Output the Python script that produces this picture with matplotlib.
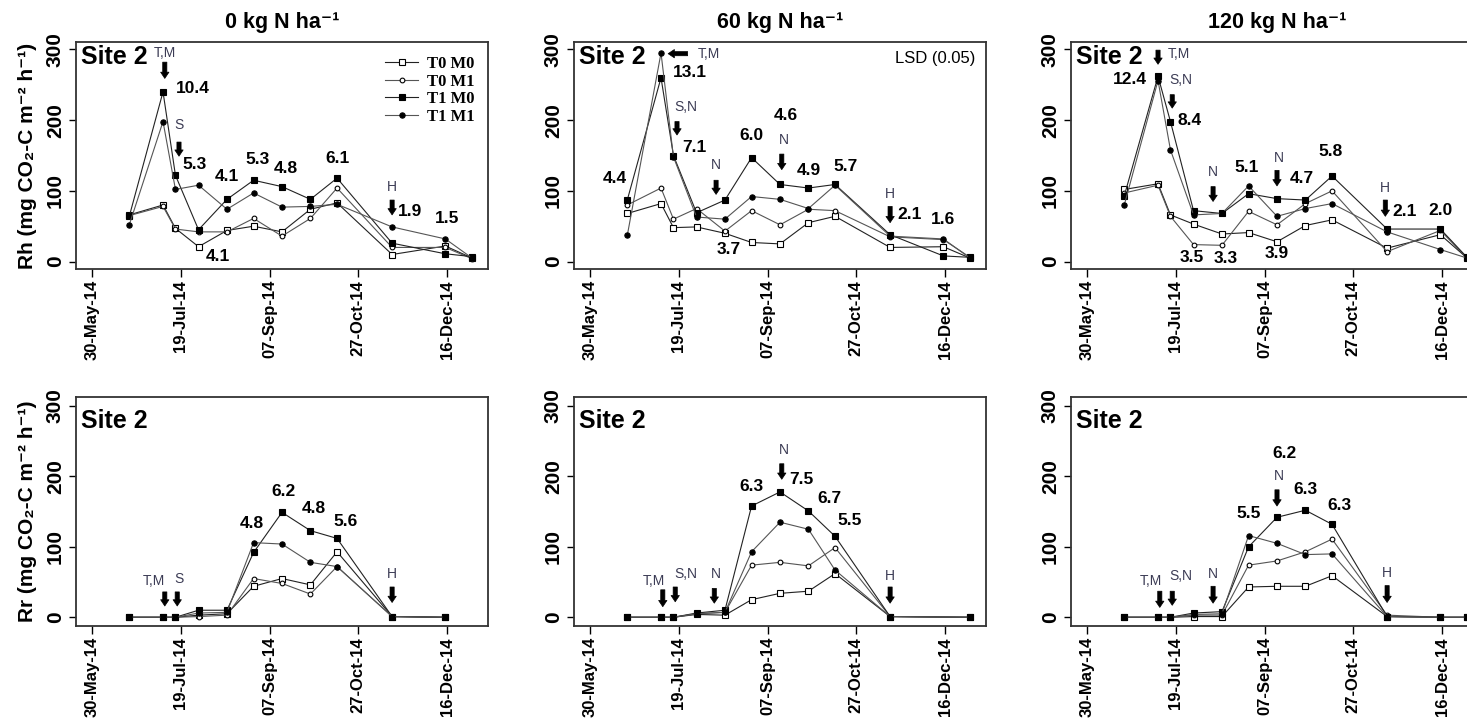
import numpy as np
import pandas as pd
import matplotlib
matplotlib.use('Agg')
import matplotlib.pyplot as plt
import matplotlib.dates as mdates

plt.rcParams['font.family'] = ['Liberation Sans', 'DejaVu Sans']

nan = np.nan

# sampling dates (same for every panel)
dates = pd.to_datetime(['2014-06-20', '2014-07-09', '2014-07-16', '2014-07-29',
                        '2014-08-14', '2014-08-29', '2014-09-14', '2014-09-30',
                        '2014-10-15', '2014-11-15', '2014-12-15', '2014-12-30'])

series_names = ['T0 M0', 'T0 M1', 'T1 M0', 'T1 M1']
titles = ['0 kg N ha\u207b\u00b9', '60 kg N ha\u207b\u00b9', '120 kg N ha\u207b\u00b9']

# Rh (heterotrophic respiration), one list per treatment: T0M0, T0M1, T1M0, T1M1
rh_n0 = [[66, 80, 47, 21, 44, 50, 42, 74, 83, 10, 22, 5],
         [65, 78, 46, 42, 42, 61, 36, 61, 104, 20, 20, 4],
         [64, 240, 122, 45, 88, 115, 106, 88, 118, 26, 11, 7],
         [52, 198, 102, 108, 74, 97, 77, 78, 81, 49, 32, 5]]
rh_n60 = [[68, 82, 48, 49, 40, 27, 25, 55, 64, 20, 21, 5],
          [80, 104, 60, 75, 43, 72, 52, 74, 72, 35, 31, 6],
          [87, 260, 150, 69, 87, 147, 109, 104, 109, 38, 8, 6],
          [37, 295, 148, 63, 60, 92, 88, 75, 108, 36, 32, 5]]
rh_n120 = [[102, 110, 66, 53, 39, 41, 28, 51, 59, 19, 38, 5],
           [97, 108, 64, 24, 23, 71, 52, 82, 100, 14, 44, 5],
           [93, 262, 198, 72, 68, 96, 89, 87, 121, 46, 46, 6],
           [80, 256, 158, 66, 68, 107, 64, 75, 82, 42, 17, 5]]

# Rr (root respiration)
rr_n0 = [[0, 0, 0, 3, 5, 44, 55, 46, 93, 1, 0, nan],
         [0, 0, 0, 1, 3, 55, 48, 33, 72, 1, 0, nan],
         [0, 0, 0, 10, 10, 92, 149, 123, 112, 1, 0, nan],
         [0, 0, 0, 6, 7, 106, 104, 78, 72, 1, 0, nan]]
rr_n60 = [[0, 0, 0, 4, 3, 25, 34, 37, 62, 1, nan, 0],
          [0, 0, 0, 5, 7, 74, 78, 73, 99, 1, nan, 0],
          [0, 0, 0, 6, 10, 158, 178, 151, 115, 1, nan, 0],
          [0, 0, 0, 5, 7, 93, 135, 125, 67, 1, nan, 0]]
rr_n120 = [[0, 0, 0, 1, 1, 43, 44, 44, 59, 1, 0, 0],
           [0, 0, 0, 3, 3, 74, 80, 93, 111, 3, 0, 0],
           [0, 0, 0, 6, 8, 100, 142, 152, 132, 1, 0, 0],
           [0, 0, 0, 4, 5, 116, 105, 89, 90, 1, 0, 0]]

# management events: (label, label date, label y, arrow from (date, y), arrow to (date, y))
ev_rh_n0 = [('T,M', '2014-07-10', 295, '2014-07-10', 282, '2014-07-10', 259),
            ('S', '2014-07-18', 193, '2014-07-18', 169, '2014-07-18', 149),
            ('H', '2014-11-15', 105, '2014-11-15', 87, '2014-11-15', 66)]
ev_rh_n60 = [('T,M', '2014-08-05', 294, '2014-07-24', 294, '2014-07-13', 294),
             ('S,N', '2014-07-23', 218, '2014-07-18', 198, '2014-07-18', 179),
             ('N', '2014-08-09', 136, '2014-08-09', 115, '2014-08-09', 95),
             ('N', '2014-09-16', 172, '2014-09-15', 152, '2014-09-15', 130),
             ('H', '2014-11-15', 96, '2014-11-15', 78, '2014-11-15', 55)]
ev_rh_n120 = [('T,M', '2014-07-21', 294, '2014-07-09', 299, '2014-07-09', 279),
              ('S,N', '2014-07-22', 257, '2014-07-17', 236, '2014-07-17', 217),
              ('N', '2014-08-09', 126, '2014-08-09', 106, '2014-08-09', 85),
              ('N', '2014-09-15', 147, '2014-09-14', 129, '2014-09-14', 107),
              ('H', '2014-11-14', 104, '2014-11-14', 87, '2014-11-14', 64)]
ev_rr_n0 = [('T,M', '2014-07-04', 52, '2014-07-10', 36, '2014-07-10', 16),
            ('S', '2014-07-18', 55, '2014-07-17', 36, '2014-07-17', 16),
            ('H', '2014-11-15', 62, '2014-11-15', 43, '2014-11-15', 21)]
ev_rr_n60 = [('T,M', '2014-07-05', 52, '2014-07-10', 39, '2014-07-10', 15),
             ('S,N', '2014-07-23', 62, '2014-07-17', 43, '2014-07-17', 22),
             ('N', '2014-08-09', 62, '2014-08-08', 41, '2014-08-08', 20),
             ('N', '2014-09-16', 238, '2014-09-15', 218, '2014-09-15', 196),
             ('H', '2014-11-15', 59, '2014-11-15', 43, '2014-11-15', 20)]
ev_rr_n120 = [('T,M', '2014-07-05', 51, '2014-07-10', 37, '2014-07-10', 14),
              ('S,N', '2014-07-22', 58, '2014-07-17', 37, '2014-07-17', 17),
              ('N', '2014-08-09', 62, '2014-08-09', 44, '2014-08-09', 20),
              ('N', '2014-09-15', 200, '2014-09-14', 181, '2014-09-14', 158),
              ('H', '2014-11-15', 63, '2014-11-15', 45, '2014-11-15', 21)]

# LSD (0.05) values: (text, date, y)
lsd_rh_n0 = [('10.4', '2014-07-26', 245), ('5.3', '2014-07-27', 137), ('4.1', '2014-08-14', 120),
             ('4.1', '2014-08-09', 7), ('5.3', '2014-08-31', 144), ('4.8', '2014-09-16', 132),
             ('6.1', '2014-10-15', 146), ('1.9', '2014-11-25', 71), ('1.5', '2014-12-16', 61)]
lsd_rh_n60 = [('4.4', '2014-06-13', 118), ('13.1', '2014-07-25', 268), ('7.1', '2014-07-28', 162),
              ('3.7', '2014-08-16', 17), ('6.0', '2014-08-29', 178), ('4.6', '2014-09-17', 207),
              ('4.9', '2014-09-30', 129), ('5.7', '2014-10-21', 135), ('2.1', '2014-11-26', 66),
              ('1.6', '2014-12-15', 59)]
lsd_rh_n120 = [('12.4', '2014-06-23', 258), ('8.4', '2014-07-27', 200), ('3.5', '2014-07-28', 6),
               ('3.3', '2014-08-16', 5), ('5.1', '2014-08-28', 133), ('3.9', '2014-09-14', 11),
               ('4.7', '2014-09-28', 118), ('5.8', '2014-10-14', 155), ('2.1', '2014-11-25', 71),
               ('2.0', '2014-12-15', 72)]
lsd_rr_n0 = [('4.8', '2014-08-28', 133), ('6.2', '2014-09-15', 178),
             ('4.8', '2014-10-02', 155), ('5.6', '2014-10-20', 136)]
lsd_rr_n60 = [('6.3', '2014-08-29', 186), ('7.5', '2014-09-26', 195),
              ('6.7', '2014-10-12', 168), ('5.5', '2014-10-23', 137)]
lsd_rr_n120 = [('5.5', '2014-08-29', 148), ('6.2', '2014-09-18', 233),
               ('6.3', '2014-09-30', 181), ('6.3', '2014-10-19', 159)]

styles = [dict(marker='s', mfc='white', color='#222222', ms=3.8),
          dict(marker='o', mfc='white', color='#555555', ms=3.4),
          dict(marker='s', mfc='black', color='#222222', ms=3.8),
          dict(marker='o', mfc='black', color='#555555', ms=3.8)]

fig = plt.figure(figsize=(14.67, 7.22), dpi=100)
W, H = 1467, 722
lefts = [76, 574, 1071]
pw = 412


def draw_panel(ax, values, events, lsd, ylim):
    for vals, name, st in zip(values, series_names, styles):
        v = np.array(vals, dtype=float)
        m = ~np.isnan(v)
        ax.plot(dates[m], v[m], marker=st['marker'], ms=st['ms'], mfc=st['mfc'], mec='black',
                mew=0.8, color=st['color'], lw=0.8, label=name)
    for lab, ld, ly, td, ty, hd, hy in events:
        ax.text(pd.Timestamp(ld), ly, lab, ha='center', va='center', fontsize=10, color='#3c3c55')
        ax.annotate('', xy=(pd.Timestamp(hd), hy), xytext=(pd.Timestamp(td), ty),
                    arrowprops=dict(arrowstyle='simple,head_width=0.6,head_length=0.45,tail_width=0.3',
                                    fc='black', ec='black', lw=0.5, mutation_scale=10,
                                    shrinkA=0, shrinkB=0))
    for txt, d, y in lsd:
        ax.text(pd.Timestamp(d), y, txt, ha='center', va='center', fontsize=12.5, fontweight='bold')

    ax.set_xlim(pd.Timestamp('2014-05-21'), pd.Timestamp('2015-01-08'))
    ax.set_ylim(*ylim)
    ax.set_yticks([0, 100, 200, 300])
    ax.set_xticks(pd.date_range('2014-05-30', periods=5, freq='50D'))
    ax.xaxis.set_major_formatter(mdates.DateFormatter('%d-%b-%y'))
    ax.tick_params(axis='x', labelrotation=90, labelsize=12, length=6, width=1, pad=2)
    ax.tick_params(axis='y', labelsize=15, length=5, width=1, pad=3)
    for lab in ax.get_xticklabels() + ax.get_yticklabels():
        lab.set_fontweight('bold')
    for lab in ax.get_yticklabels():
        lab.set_rotation(90)
        lab.set_va('center')
    for sp in ax.spines.values():
        sp.set_color('#333333')
        sp.set_linewidth(1.3)


rh_sets = [(rh_n0, ev_rh_n0, lsd_rh_n0), (rh_n60, ev_rh_n60, lsd_rh_n60), (rh_n120, ev_rh_n120, lsd_rh_n120)]
rr_sets = [(rr_n0, ev_rr_n0, lsd_rr_n0), (rr_n60, ev_rr_n60, lsd_rr_n60), (rr_n120, ev_rr_n120, lsd_rr_n120)]

for i in range(3):
    # top row: Rh
    ax = fig.add_axes([lefts[i] / W, (H - 269) / H, pw / W, 227 / H])
    draw_panel(ax, *rh_sets[i], ylim=(-10.5, 310.5))
    ax.set_title(titles[i], fontsize=15.5, fontweight='bold', pad=10)
    ax.text(0.013, 0.933, 'Site 2', transform=ax.transAxes, ha='left', va='center',
            fontsize=18, fontweight='bold')
    if i == 0:
        ax.set_ylabel('Rh (mg CO\u2082-C m\u207b\u00b2 h\u207b\u00b9)', fontsize=15, fontweight='bold')
        ax.yaxis.set_label_coords(-0.095, 0.5)
        ax.legend(loc='upper right', bbox_to_anchor=(0.995, 0.99), frameon=False,
                  prop={'family': 'Liberation Serif', 'weight': 'bold', 'size': 12},
                  handlelength=2.0, handletextpad=0.5, labelspacing=0.1, borderpad=0.2)
    if i == 1:
        ax.text(0.973, 0.928, 'LSD (0.05)', transform=ax.transAxes, ha='right', va='center',
                fontsize=12)

    # bottom row: Rr
    ax = fig.add_axes([lefts[i] / W, (H - 626) / H, pw / W, 228.7 / H])
    draw_panel(ax, *rr_sets[i], ylim=(-12.4, 312.4))
    ax.text(0.013, 0.898, 'Site 2', transform=ax.transAxes, ha='left', va='center',
            fontsize=18, fontweight='bold')
    if i == 0:
        ax.set_ylabel('Rr (mg CO\u2082-C m\u207b\u00b2 h\u207b\u00b9)', fontsize=15, fontweight='bold')
        ax.yaxis.set_label_coords(-0.095, 0.5)

fig.savefig('out.png', dpi=100)
